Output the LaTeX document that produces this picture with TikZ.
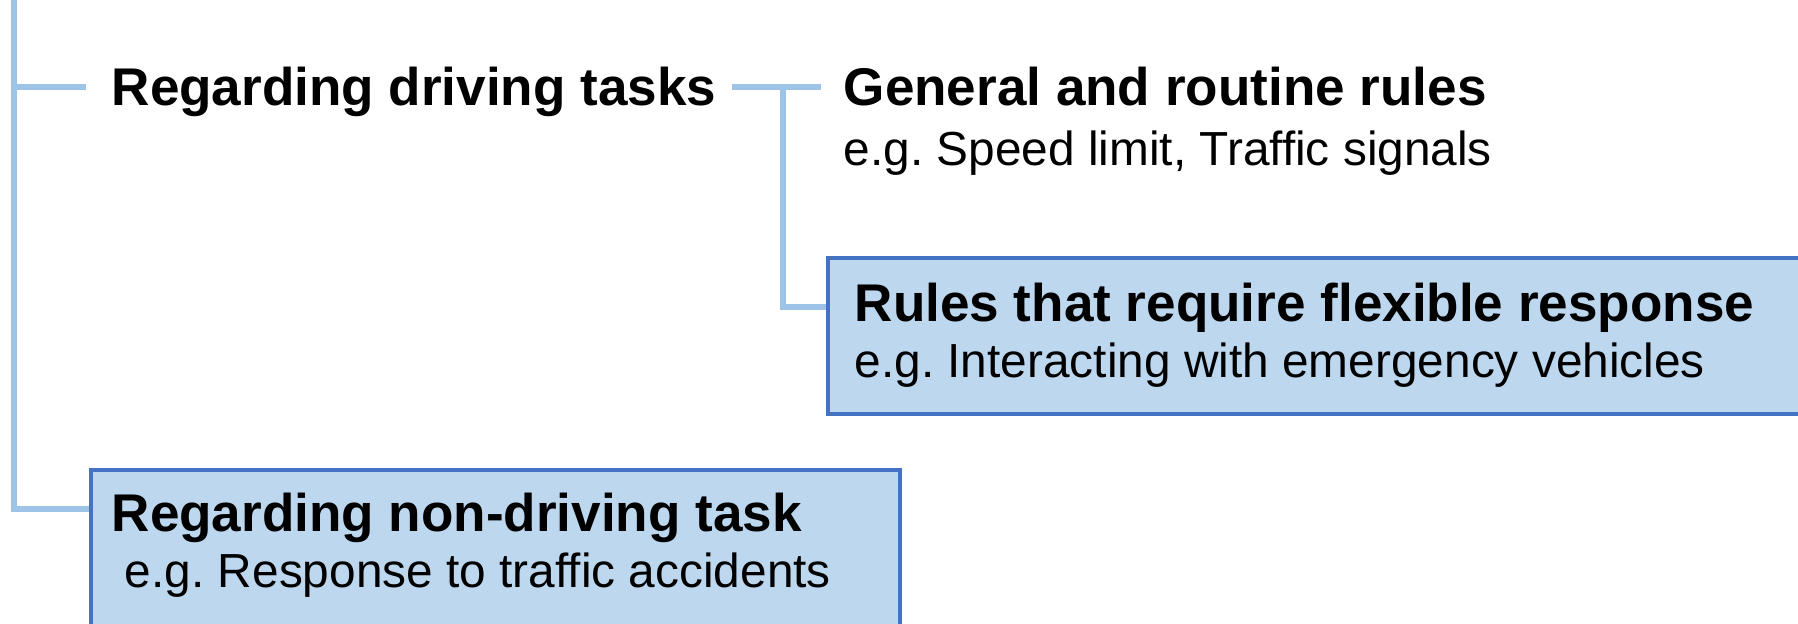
\documentclass[tikz,border=0pt]{standalone}
\usepackage{fontspec}
\setmainfont{Liberation Sans}
\frenchspacing
\usepackage{tikz}
\definecolor{branchblue}{HTML}{9DC3E6}
\definecolor{boxfill}{HTML}{BDD7EE}
\definecolor{boxline}{HTML}{4472C4}
\tikzset{%
  % Specifications for style of nodes:
       base/.style = {inner sep=0pt, anchor=base west, text height=0.38cm, text depth=0pt},
      title/.style = {base, font=\fontsize{15.1}{18}\selectfont\bfseries},
    example/.style = {base, font=\fontsize{13.6}{16}\selectfont},
    rulebox/.style = {rectangle, draw=boxline, fill=boxfill, line width=1.1pt,
                      anchor=north west, inner sep=0pt},
     branch/.style = {draw=branchblue, line width=1.7pt},
}

\begin{document}
\begin{tikzpicture}
  \useasboundingbox (0,0) rectangle (17.98,-6.24);
  \clip (0,0) rectangle (17.98,-6.24);
  % Specification of nodes (position, etc.)
  \node (flexbox)     [rulebox, minimum width=10.5cm, minimum height=1.56cm] at (8.26,-2.56) {};
  \node (nondrivebox) [rulebox, minimum width=8.09cm, minimum height=2.2cm]  at (0.89,-4.68) {};

  \node (driving)     [title]   at (1.11,-1.06) {Regarding driving tasks};
  \node (general)     [title]   at (8.43,-1.06) {General and routine rules};
  \node (generalex)   [example] at (8.43,-1.66) {e.g. Speed limit, Traffic signals};
  \node (flexible)    [title]   at (8.54,-3.22) {Rules that require flexible response};
  \node (flexibleex)  [example] at (8.54,-3.78) {e.g. Interacting with emergency vehicles};
  \node (nondrive)    [title]   at (1.11,-5.32) {Regarding non-driving task};
  \node (nondriveex)  [example] at (1.11,-5.88) {\ e.g. Response to traffic accidents};

  \coordinate (root) at (0.14,0.1);
  \path (general.west) ++(-0.60,0) coordinate (fork);

  % Branches
  \draw[branch] (root) |- ([xshift=-0.25cm]driving.west);
  \draw[branch] (root) |- ([yshift=0.04cm]nondrive.west -| nondrivebox.west);
  \draw[branch] ([xshift=0.15cm]driving.east) -- ([xshift=-0.22cm]general.west);
  \draw[branch] (fork) |- ([yshift=-0.04cm]flexible.west -| flexbox.west);
\end{tikzpicture}
\end{document}
